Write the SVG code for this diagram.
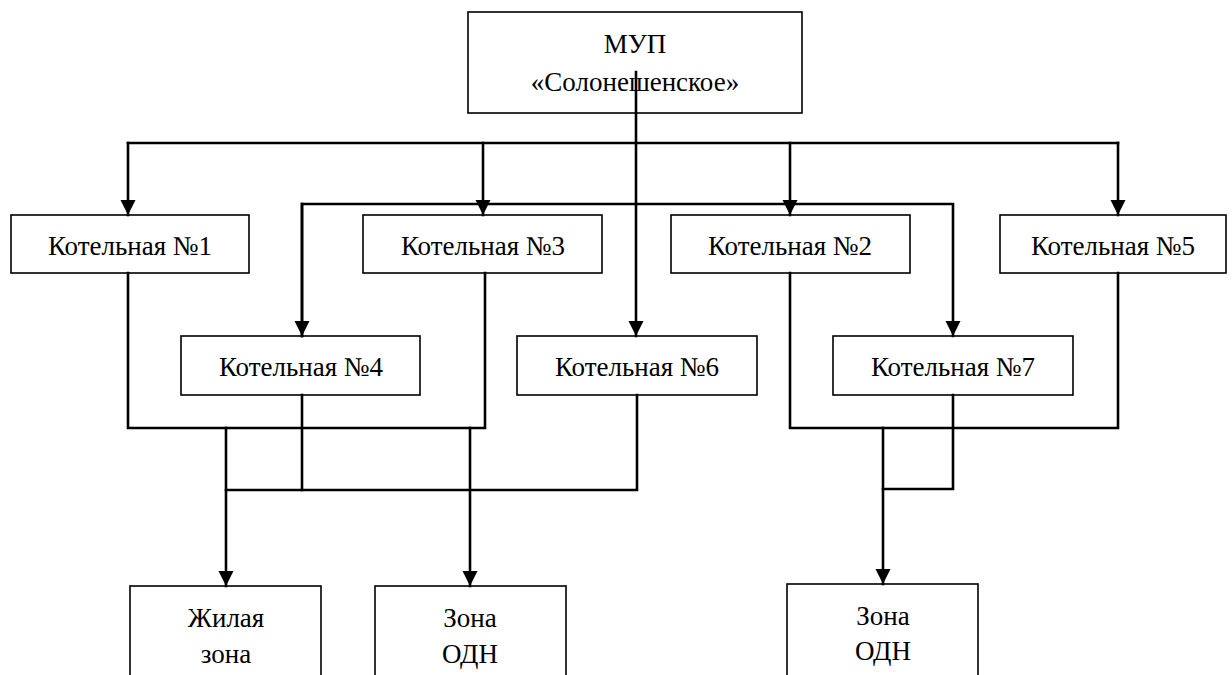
<svg xmlns="http://www.w3.org/2000/svg" width="1232" height="675" viewBox="0 0 1232 675">
<style>
.box{fill:#fff;stroke:#000;stroke-width:1.6}
.t{font-family:"Liberation Serif","DejaVu Serif",serif;font-size:27px;fill:#000;text-anchor:middle}
.c{fill:none;stroke:#000;stroke-width:2.6;stroke-linejoin:miter;stroke-linecap:square}
</style>
<defs>
<marker id="arr" markerUnits="userSpaceOnUse" markerWidth="16" markerHeight="16" refX="15" refY="7.5" orient="auto">
<path d="M0,0 L15,7.5 L0,15 z" fill="#000"/>
</marker>
</defs>
<rect width="1232" height="675" fill="#fff"/>
<g id="n-mup"><rect class="box" x="468" y="12" width="334" height="101"/><text class="t" x="635" y="53">МУП</text><text class="t" x="635" y="91">«Солонешенское»</text></g>
<g id="n-k1"><rect class="box" x="11" y="215" width="238" height="58"/><text class="t" x="130" y="255">Котельная №1</text></g>
<g id="n-k3"><rect class="box" x="363" y="215" width="239" height="58"/><text class="t" x="483" y="255">Котельная №3</text></g>
<g id="n-k2"><rect class="box" x="671" y="215" width="239" height="58"/><text class="t" x="790" y="255">Котельная №2</text></g>
<g id="n-k5"><rect class="box" x="1000" y="215" width="226" height="58"/><text class="t" x="1113" y="255">Котельная №5</text></g>
<g id="n-k4"><rect class="box" x="181" y="336" width="239" height="59"/><text class="t" x="301" y="376">Котельная №4</text></g>
<g id="n-k6"><rect class="box" x="517" y="336" width="240" height="59"/><text class="t" x="637" y="376">Котельная №6</text></g>
<g id="n-k7"><rect class="box" x="833" y="336" width="240" height="59"/><text class="t" x="953" y="376">Котельная №7</text></g>
<g id="n-zh"><rect class="box" x="130" y="586" width="191" height="100"/><text class="t" x="226" y="627">Жилая</text><text class="t" x="226" y="663">зона</text></g>
<g id="n-odn1"><rect class="box" x="375" y="586" width="191" height="100"/><text class="t" x="470" y="627">Зона</text><text class="t" x="470" y="663">ОДН</text></g>
<g id="n-odn2"><rect class="box" x="787" y="584" width="191" height="100"/><text class="t" x="883" y="625">Зона</text><text class="t" x="883" y="660">ОДН</text></g>
<g id="connectors">
<path class="c" d="M636,72 V336" marker-end="url(#arr)"/>
<path class="c" d="M128,143 H1118"/>
<path class="c" d="M128,143 V215" marker-end="url(#arr)"/>
<path class="c" d="M483,143 V215" marker-end="url(#arr)"/>
<path class="c" d="M790,143 V215" marker-end="url(#arr)"/>
<path class="c" d="M1118,143 V215" marker-end="url(#arr)"/>
<path class="c" d="M302,336 V204 H953 V336" marker-end="url(#arr)"/>
<path class="c" d="M302,204 V336" marker-end="url(#arr)"/>
<path class="c" d="M128,273 V428 H485 V273"/>
<path class="c" d="M226,428 V586" marker-end="url(#arr)"/>
<path class="c" d="M470,428 V586" marker-end="url(#arr)"/>
<path class="c" d="M302,395 V490"/>
<path class="c" d="M226,490 H637 V395"/>
<path class="c" d="M790,273 V428 H1118 V273"/>
<path class="c" d="M883,428 V584" marker-end="url(#arr)"/>
<path class="c" d="M953,395 V489 H883"/>
</g>
</svg>
